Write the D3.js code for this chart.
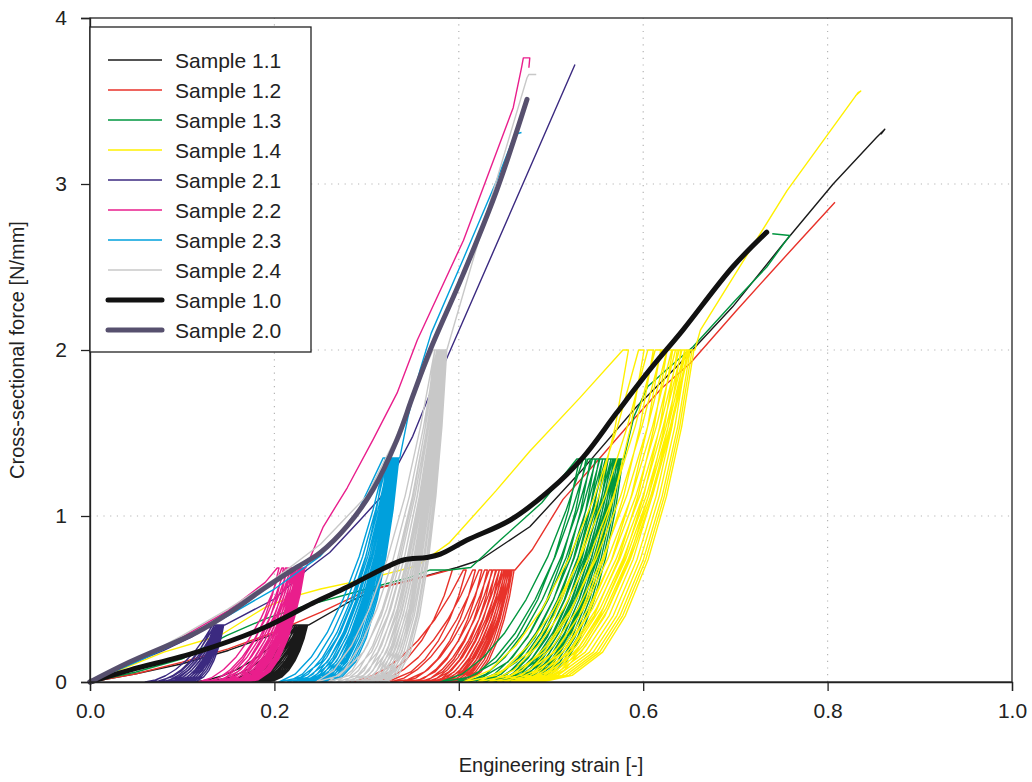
<!DOCTYPE html>
<html lang="en">
<head>
    <meta charset="UTF-8">
    <title>Cross-sectional force vs engineering strain</title>
    <script src="https://cdnjs.cloudflare.com/ajax/libs/d3/7.8.5/d3.min.js"></script>
    <style>
        body { margin: 0; background: #fff; font-family: Arial, "Liberation Sans", sans-serif; }
        svg text { fill: #222; }
    </style>
</head>
<body>
    <svg id="chart" width="1032" height="782"></svg>

    <script>
        // ---- data (strain [-], force [N/mm]) ----
        const xTicks = [0, 0.2, 0.4, 0.6, 0.8, 1.0];
        const yTicks = [0, 1, 2, 3, 4];

        // normalised loop branches: [strain fraction, force fraction]
        const reloadShape = [[0, 0], [0.15, 0.035], [0.3, 0.11], [0.45, 0.22], [0.6, 0.37], [0.75, 0.56], [0.88, 0.77], [1, 1]];
        const unloadShape = [[0, 0], [0.2, 0.02], [0.4, 0.09], [0.55, 0.2], [0.7, 0.37], [0.82, 0.56], [0.92, 0.77], [1, 1]];

        // Sample 1.1
        const s11Pre = [[0, 0], [0.05, 0.05], [0.1, 0.11], [0.15, 0.19], [0.2, 0.29]];
        const s11Peaks = [0.214, 0.218, 0.221, 0.223, 0.225, 0.227, 0.228, 0.229, 0.23, 0.231, 0.232, 0.233, 0.234, 0.235];
        const s11Zeros = [0.112, 0.13, 0.142, 0.151, 0.158, 0.164, 0.169, 0.173, 0.177, 0.181, 0.184, 0.187, 0.19];
        const s11Post = [[0.279, 0.476], [0.315, 0.57], [0.358, 0.63], [0.398, 0.69], [0.423, 0.735], [0.477, 0.935], [0.531, 1.26],
            [0.593, 1.66], [0.64, 1.92], [0.697, 2.26], [0.752, 2.64], [0.806, 3.0], [0.853, 3.28], [0.862, 3.33], [0.858, 3.3]];

        // Sample 1.2
        const s12Pre = [[0, 0], [0.05, 0.05], [0.1, 0.12], [0.15, 0.2], [0.2, 0.3], [0.25, 0.42], [0.3, 0.55], [0.347, 0.61]];
        const s12Peaks = [0.39, 0.405, 0.415, 0.422, 0.428, 0.433, 0.437, 0.441, 0.444, 0.447, 0.449, 0.451, 0.453, 0.455, 0.457, 0.458];
        const s12Zeros = [0.282, 0.308, 0.326, 0.34, 0.35, 0.358, 0.365, 0.371, 0.376, 0.381, 0.385, 0.389, 0.393, 0.397, 0.4];
        const s12Post = [[0.48, 0.8], [0.513, 1.1], [0.55, 1.33], [0.586, 1.56], [0.62, 1.77], [0.651, 1.92], [0.7, 2.23],
            [0.734, 2.44], [0.77, 2.66], [0.808, 2.89]];

        // Sample 1.3
        const s13Pre = [[0, 0], [0.05, 0.06], [0.1, 0.14], [0.148, 0.28], [0.19, 0.38], [0.228, 0.45], [0.3, 0.56], [0.347, 0.63],
            [0.369, 0.675], [0.39, 0.675], [0.413, 0.69], [0.445, 0.855], [0.49, 1.08]];
        const s13Peaks = [0.528, 0.535, 0.54, 0.545, 0.549, 0.553, 0.556, 0.559, 0.562, 0.565, 0.567, 0.569, 0.571, 0.573, 0.575, 0.576];
        const s13Zeros = [0.38, 0.397, 0.409, 0.419, 0.427, 0.434, 0.44, 0.445, 0.45, 0.455, 0.459, 0.463, 0.467, 0.471, 0.475];
        const s13Post = [[0.59, 1.6], [0.605, 1.78], [0.625, 1.88], [0.654, 2.02], [0.7, 2.3], [0.734, 2.5], [0.759, 2.69], [0.74, 2.7]];

        // Sample 1.4
        const s14Pre = [[0, 0], [0.04, 0.09], [0.08, 0.18], [0.141, 0.28], [0.19, 0.45], [0.217, 0.51], [0.25, 0.56], [0.3, 0.62],
            [0.355, 0.7], [0.39, 0.84], [0.44, 1.15], [0.477, 1.39], [0.531, 1.71]];
        const s14Peaks = [0.578, 0.595, 0.605, 0.613, 0.62, 0.626, 0.631, 0.635, 0.639, 0.642, 0.645, 0.647, 0.649, 0.65];
        const s14Zeros = [0.405, 0.42, 0.432, 0.442, 0.45, 0.457, 0.463, 0.468, 0.473, 0.478, 0.482, 0.486, 0.49];
        const s14Post = [[0.662, 2.12], [0.756, 2.96], [0.833, 3.55], [0.836, 3.56], [0.83, 3.53]];

        // Sample 2.1
        const s21Pre = [[0, 0], [0.04, 0.1], [0.08, 0.19], [0.11, 0.27]];
        const s21Peaks = [0.13, 0.133, 0.135, 0.137, 0.138, 0.139, 0.14, 0.141, 0.142, 0.143, 0.144];
        const s21Zeros = [0.06, 0.07, 0.077, 0.083, 0.088, 0.093, 0.097, 0.101, 0.105, 0.109];
        const s21Post = [[0.2, 0.5], [0.235, 0.675], [0.26, 0.78], [0.293, 0.976], [0.315, 1.11], [0.35, 1.48], [0.369, 1.74],
            [0.387, 1.95], [0.526, 3.72]];

        // Sample 2.2
        const s22Pre = [[0, 0], [0.05, 0.13], [0.1, 0.27], [0.15, 0.43], [0.19, 0.6]];
        const s22Peaks = [0.203, 0.208, 0.212, 0.215, 0.218, 0.22, 0.222, 0.224, 0.226, 0.227, 0.228, 0.229, 0.23, 0.231, 0.232];
        const s22Zeros = [0.118, 0.127, 0.134, 0.14, 0.145, 0.149, 0.153, 0.156, 0.159, 0.162, 0.164, 0.166, 0.168, 0.17];
        const s22Post = [[0.253, 0.935], [0.279, 1.17], [0.307, 1.46], [0.333, 1.74], [0.355, 2.06], [0.405, 2.66], [0.459, 3.46],
            [0.468, 3.7], [0.47, 3.76], [0.477, 3.76], [0.476, 3.7]];

        // Sample 2.3
        const s23Pre = [[0, 0], [0.05, 0.12], [0.1, 0.25], [0.15, 0.4], [0.2, 0.56], [0.25, 0.76], [0.29, 1.02]];
        const s23Peaks = [0.318, 0.321, 0.323, 0.325, 0.326, 0.327, 0.328, 0.329, 0.33, 0.331, 0.332, 0.333, 0.334];
        const s23Zeros = [0.205, 0.214, 0.221, 0.227, 0.232, 0.236, 0.24, 0.244, 0.248, 0.251, 0.254, 0.257];
        const s23Post = [[0.345, 1.6], [0.358, 1.88], [0.37, 2.1], [0.405, 2.55], [0.441, 3.02], [0.461, 3.3], [0.468, 3.31]];

        // Sample 2.4
        const s24Pre = [[0, 0], [0.05, 0.13], [0.1, 0.28], [0.15, 0.44], [0.2, 0.62], [0.25, 0.83], [0.3, 1.12], [0.33, 1.45], [0.35, 1.72]];
        const s24Peaks = [0.372, 0.374, 0.376, 0.377, 0.378, 0.379, 0.38, 0.381, 0.382, 0.383, 0.383, 0.384, 0.384, 0.385, 0.385];
        const s24Zeros = [0.245, 0.258, 0.268, 0.276, 0.283, 0.289, 0.294, 0.299, 0.303, 0.307, 0.311, 0.315, 0.318, 0.321];
        const s24Post = [[0.43, 2.82], [0.474, 3.64], [0.476, 3.66], [0.484, 3.66]];

        // monotonic references
        const s10 = [[0, 0], [0.043, 0.072], [0.116, 0.18], [0.188, 0.325], [0.242, 0.476], [0.279, 0.572], [0.315, 0.675],
            [0.34, 0.735], [0.365, 0.75], [0.38, 0.77], [0.409, 0.855], [0.456, 0.976], [0.499, 1.157], [0.535, 1.355],
            [0.571, 1.62], [0.607, 1.88], [0.643, 2.12], [0.697, 2.5], [0.734, 2.71]];
        const s20 = [[0, 0], [0.043, 0.12], [0.116, 0.3], [0.152, 0.42], [0.188, 0.56], [0.224, 0.69], [0.25, 0.78], [0.279, 0.94],
            [0.307, 1.16], [0.333, 1.46], [0.35, 1.72], [0.369, 2.0], [0.405, 2.46], [0.441, 2.96], [0.474, 3.51]];

        const legendNames = ['Sample 1.1', 'Sample 1.2', 'Sample 1.3', 'Sample 1.4', 'Sample 2.1',
            'Sample 2.2', 'Sample 2.3', 'Sample 2.4', 'Sample 1.0', 'Sample 2.0'];
        const colors = ['#1a1a1a', '#e8322a', '#00963f', '#fff000', '#3b2a80', '#e91e8c', '#00a0dc', '#c8c8c8', '#111111', '#57506e'];

        const cyclic = [
            { pre: s11Pre, peaks: s11Peaks, zeros: s11Zeros, post: s11Post, level: 0.343, hold: 0.002 },
            { pre: s12Pre, peaks: s12Peaks, zeros: s12Zeros, post: s12Post, level: 0.675, hold: 0.003 },
            { pre: s13Pre, peaks: s13Peaks, zeros: s13Zeros, post: s13Post, level: 1.343, hold: 0.003 },
            { pre: s14Pre, peaks: s14Peaks, zeros: s14Zeros, post: s14Post, level: 2.0, hold: 0.006 },
            { pre: s21Pre, peaks: s21Peaks, zeros: s21Zeros, post: s21Post, level: 0.343, hold: 0.002 },
            { pre: s22Pre, peaks: s22Peaks, zeros: s22Zeros, post: s22Post, level: 0.687, hold: 0.002 },
            { pre: s23Pre, peaks: s23Peaks, zeros: s23Zeros, post: s23Post, level: 1.35, hold: 0.002 },
            { pre: s24Pre, peaks: s24Peaks, zeros: s24Zeros, post: s24Post, level: 2.0, hold: 0.002 }
        ];

        // ---- chart ----
        const svg = d3.select('#chart');
        const plotLeft = 90, plotRight = 1012, plotTop = 18, plotBottom = 682;

        const x = d3.scaleLinear().domain([0, 1]).range([plotLeft, plotRight]);
        const y = d3.scaleLinear().domain([0, 4]).range([plotBottom, plotTop]);

        // dotted grid
        const grid = svg.append('g').attr('stroke', '#b5b5b5').attr('stroke-width', 1.2)
            .attr('stroke-dasharray', '1.2,5.5');
        grid.selectAll('.gx').data(xTicks.filter(d => d > 0 && d < 1)).enter().append('line')
            .attr('x1', d => x(d)).attr('x2', d => x(d)).attr('y1', plotBottom).attr('y2', plotTop);
        grid.selectAll('.gy').data(yTicks.filter(d => d > 0 && d < 4)).enter().append('line')
            .attr('y1', d => y(d)).attr('y2', d => y(d)).attr('x1', plotLeft).attr('x2', plotRight);

        // build a creep-recovery path: envelope, loops at constant force level, envelope
        function cyclePath(s) {
            const F = s.level;
            const pts = s.pre.slice();
            pts.push([s.peaks[0], F]);
            s.zeros.forEach((z, i) => {
                const q = s.peaks[i] + s.hold;
                pts.push([q, F]);
                for (let k = unloadShape.length - 2; k >= 0; k--) {
                    const [t, f] = unloadShape[k];
                    pts.push([z + t * (q - z), f * F]);
                }
                const p = s.peaks[i + 1];
                for (let k = 1; k < reloadShape.length; k++) {
                    const [t, f] = reloadShape[k];
                    pts.push([z + t * (p - z), f * F]);
                }
            });
            pts.push([s.peaks[s.peaks.length - 1] + s.hold, F]);
            return pts.concat(s.post);
        }

        const line = d3.line().x(d => x(d[0])).y(d => y(d[1]));

        const curves = svg.append('g').attr('fill', 'none').attr('stroke-linejoin', 'round');
        cyclic.forEach((s, i) => {
            curves.append('path')
                .attr('d', line(cyclePath(s)))
                .attr('stroke', colors[i])
                .attr('stroke-width', 1.4);
        });
        const mono = d3.line().x(d => x(d[0])).y(d => y(d[1])).curve(d3.curveCatmullRom.alpha(0.5));
        [s10, s20].forEach((d, i) => {
            curves.append('path')
                .attr('d', mono(d))
                .attr('stroke', colors[8 + i])
                .attr('stroke-width', 5)
                .attr('stroke-linecap', 'round');
        });

        // frame and axes
        svg.append('rect').attr('x', plotLeft).attr('y', plotTop)
            .attr('width', plotRight - plotLeft).attr('height', plotBottom - plotTop)
            .attr('fill', 'none').attr('stroke', '#222').attr('stroke-width', 1.3);

        const xAxis = svg.append('g').attr('transform', `translate(0,${plotBottom})`)
            .call(d3.axisBottom(x).tickValues(xTicks).tickFormat(d3.format('.1f')).tickSize(9).tickPadding(12));
        const yAxis = svg.append('g').attr('transform', `translate(${plotLeft},0)`)
            .call(d3.axisLeft(y).tickValues(yTicks).tickFormat(d3.format('d')).tickSize(9).tickPadding(14));
        [xAxis, yAxis].forEach(a => {
            a.select('.domain').attr('stroke', '#222').attr('stroke-width', 1.3);
            a.selectAll('.tick line').attr('stroke', '#222').attr('stroke-width', 1.3);
            a.selectAll('.tick text').attr('font-size', 21)
                .attr('font-family', 'Arial, "Liberation Sans", sans-serif').attr('fill', '#222');
        });

        svg.append('text').attr('x', (plotLeft + plotRight) / 2).attr('y', 772).attr('text-anchor', 'middle')
            .attr('font-size', 20).text('Engineering strain [-]');
        svg.append('text').attr('transform', `translate(24,${(plotTop + plotBottom) / 2}) rotate(-90)`)
            .attr('text-anchor', 'middle').attr('font-size', 20).text('Cross-sectional force [N/mm]');

        // legend
        const legend = svg.append('g');
        legend.append('rect').attr('x', plotLeft).attr('y', 27).attr('width', 221).attr('height', 325)
            .attr('fill', '#fff').attr('stroke', '#222').attr('stroke-width', 1.3);
        legendNames.forEach((name, i) => {
            const ly = 60 + i * 30;
            legend.append('line').attr('x1', 108).attr('x2', 162).attr('y1', ly).attr('y2', ly)
                .attr('stroke', colors[i]).attr('stroke-width', i >= 8 ? 5 : 1.6)
                .attr('stroke-linecap', i >= 8 ? 'round' : 'butt');
            legend.append('text').attr('x', 175).attr('y', ly + 7.5).attr('font-size', 21).text(name);
        });
    </script>
</body>
</html>
